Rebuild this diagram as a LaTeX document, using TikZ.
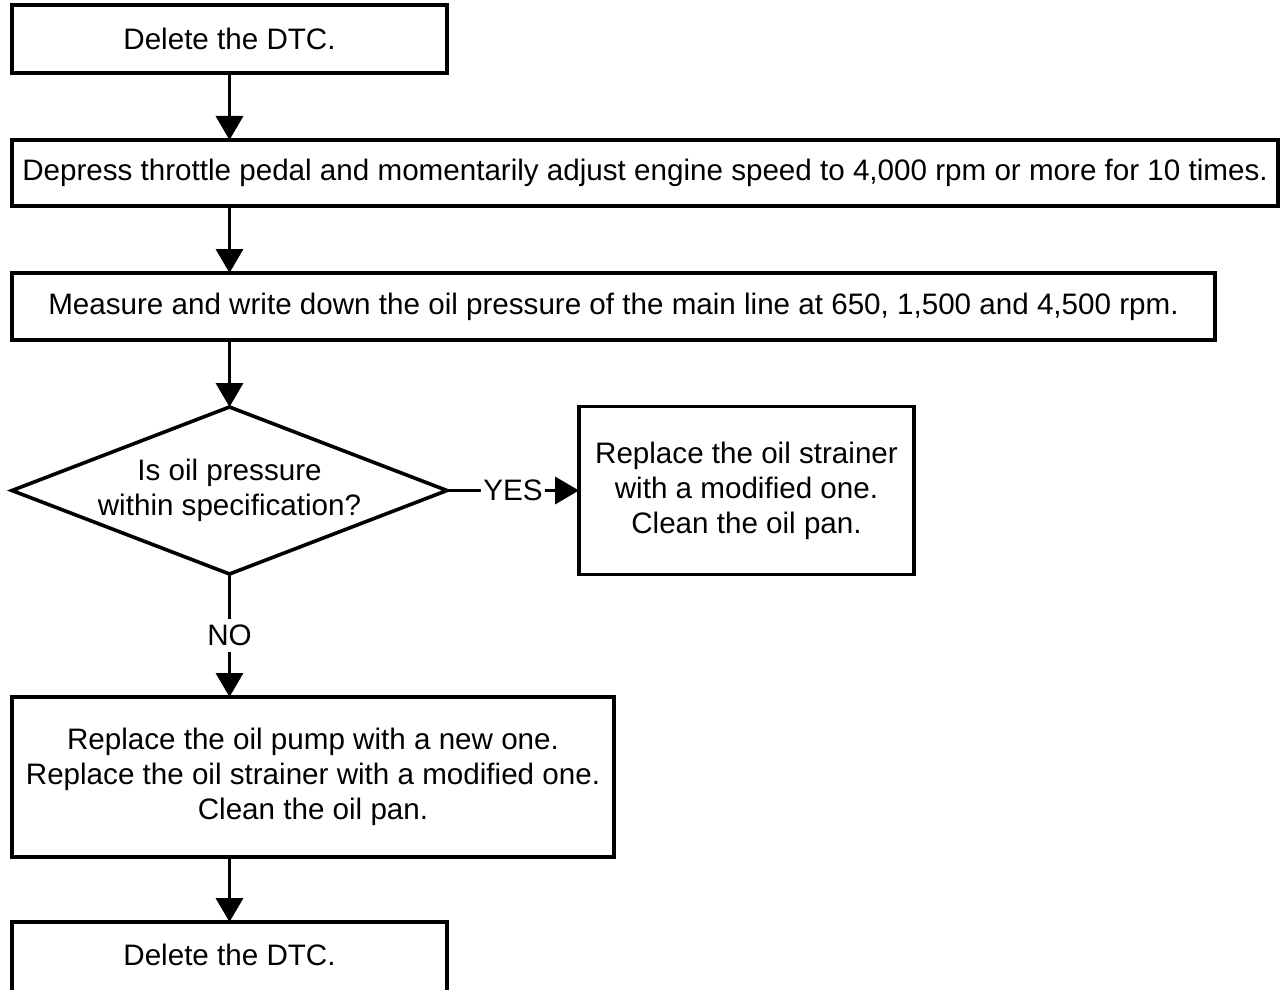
\documentclass[tikz,border=0pt]{standalone}
\usepackage{fontspec}
\setmainfont{Liberation Sans}
\usepackage{tikz}
\usetikzlibrary{arrows.meta,positioning,shapes.geometric}

\begin{document}
\begin{tikzpicture}[>={Triangle[width=13.5pt,length=12pt]},line width=1.8pt,
    stepbox/.style={draw,rectangle,align=center,inner sep=0pt,outer sep=0pt,
        font=\fontsize{14.8pt}{17.5pt}\selectfont},
    decision/.style={draw,diamond,aspect=2.6,align=center,inner sep=0pt,outer sep=0pt,
        minimum width=217.5pt,minimum height=83.5pt,
        font=\fontsize{14.8pt}{17.5pt}\selectfont},
    lbl/.style={fill=white,inner xsep=1pt,inner ysep=3pt,font=\fontsize{14.8pt}{17.5pt}\selectfont}]
        \useasboundingbox (0,0) rectangle (640pt,-495pt);

        \node[stepbox,minimum width=217.5pt,minimum height=34pt,anchor=north west]
            (del1) at (6pt,-2.5pt) {Delete the DTC.};
        \node[stepbox,minimum width=633pt,minimum height=33pt]
            (rev) [below right=33.5pt and 0pt of del1.south west]
            {Depress throttle pedal and momentarily adjust engine speed to 4,000 rpm or more for 10 times.};
        \node[stepbox,minimum width=601.5pt,minimum height=33.5pt]
            (meas) [below right=33.5pt and 0pt of rev.south west]
            {Measure and write down the oil pressure of the main line at 650, 1,500 and 4,500 rpm.};
        \coordinate (c1) at (meas.south -| del1);
        \node[decision] (chk) [below=33.5pt of c1] {Is oil pressure\\within specification?};
        \node[stepbox,minimum width=167.5pt,minimum height=84pt]
            (fix) [right=66pt of chk]
            {Replace the oil strainer\\with a modified one.\\Clean the oil pan.};
        \coordinate (c2) at (chk.south -| meas.west);
        \node[stepbox,minimum width=301pt,minimum height=80pt]
            (pump) [below right=61.5pt and 0pt of c2]
            {Replace the oil pump with a new one.\\Replace the oil strainer with a modified one.\\Clean the oil pan.};
        \node[stepbox,minimum width=217.5pt,minimum height=36pt,text depth=0pt,
            text height=10pt]
            (del2) [below right=32.5pt and 0pt of pump.south west] {\raisebox{1.5pt}{Delete the DTC.}};

        \draw[->] (del1) -- (del1 |- rev.north);
        \draw[->] (del1 |- rev.south) -- (del1 |- meas.north);
        \draw[->] (c1) -- (chk.north);
        \draw[->] (chk.east) -- node[lbl] {YES} (fix.west);
        \draw[->] (chk.south) -- node[lbl] {NO} (chk.south |- pump.north);
        \draw[->] (chk.south |- pump.south) -- (chk.south |- del2.north);
    \end{tikzpicture}
\end{document}
